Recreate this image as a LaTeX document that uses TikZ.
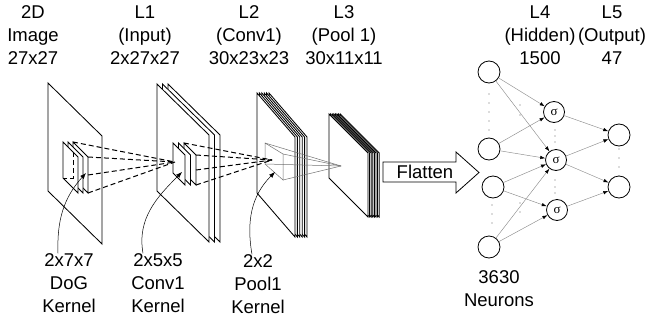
\documentclass[tikz,border=0pt]{standalone}
\usepackage{fontspec}
\setmainfont{Liberation Sans}
\newfontfamily\sigfont{Liberation Serif}
\usetikzlibrary{positioning,arrows.meta,calc}
\tikzset{
  slabline/.style={draw=black,line width=0.85pt,fill=white},
  kray/.style={dash pattern=on 5pt off 3pt,line width=1pt},
  poolline/.style={draw=black!55,line width=0.5pt},
  karr/.style={-{Latex[length=6pt,width=4.5pt]},line width=0.5pt},
  nnarr/.style={-{Latex[length=5pt,width=3.5pt,color=black]},draw=black!45,line width=0.45pt},
  neuron/.style={circle,draw=black,line width=0.8pt,minimum size=22pt,inner sep=0pt},
  sneuron/.style={neuron,minimum size=21pt,font=\sigfont\fontsize{13}{13}\selectfont},
  lbl/.style={align=center,inner sep=0pt,font=\fontsize{18.5}{23}\selectfont},
  nndot/.style={fill=black!60}
}
% x y width slope height backslices offset
\newcommand{\convslab}[7]{%
  \foreach \k in {#6,...,0}
    \filldraw[slabline] ({#1+\k*#7},#2) -- ++(#3,#4) -- ++(0,#5) -- ++(-#3,-#4) -- cycle;
}

\begin{document}
\begin{tikzpicture}[x=1pt,y=-1pt]
\useasboundingbox (0,0) rectangle (647,324);

\node[lbl] (lbl0) at (33,35) {2D\\Image\\27x27};
\node[lbl] (lbl1) at (145,35) {L1\\(Input)\\2x27x27};
\node[lbl] (lbl2) at (249,35) {L2\\(Conv1)\\30x23x23};
\node[lbl] (lbl3) at (344,35) {L3\\(Pool 1)\\30x11x11};
\node[lbl] (lbl4) at (540,35) {L4\\(Hidden)\\1500};
\node[lbl] (lbl5) at (612,35) {L5\\(Output)\\47};

\convslab{48}{83}{54}{53}{108}{0}{0}
\convslab{63}{142}{15}{15}{36}{2}{5}
\draw[kray,line width=0.6pt] (73,152) -- (73,178) -- (63,178);
\convslab{157}{84}{52}{51}{107}{2}{5.5}
\convslab{173}{143}{12}{12}{30}{2}{5.5}
\convslab{257}{93}{38}{44}{100}{5}{2.4}
\convslab{329}{114}{39}{39}{64}{7}{1.6}

\coordinate (a1) at (175,162);
\coordinate (a2) at (272,160);
\coordinate (a3) at (341,166);
\coordinate (p1) at (265,143);
\coordinate (p2) at (283,154);
\coordinate (p3) at (283,180);
\coordinate (p4) at (265,164);
\draw[poolline] (p1) -- (p2) -- (p3) -- (p4) -- cycle;
\foreach \p in {p1,p2,p3,p4}
  \draw[poolline] (\p) -- (a3);
\foreach \s in {(73,142),(88,157),(88,175),(88,193)}
  \draw[kray] \s -- (a1);
\foreach \s in {(184,143),(196,155),(196,170),(196,185)}
  \draw[kray] \s -- (a2);

\node[lbl] (klbl0) at (69,283) {2x7x7\\DoG\\Kernel};
\node[lbl] (klbl1) at (158,283) {2x5x5\\Conv1\\Kernel};
\node[lbl] (klbl2) at (258,284) {2x2\\Pool1\\Kernel};
\coordinate (k0tip) at (86,173);
\coordinate (k1tip) at (182,172);
\coordinate (k2tip) at (275,172);
\draw[karr] ([xshift=-11pt]klbl0.north) to[out=92,in=228] (k0tip);
\draw[karr] ([xshift=-15pt]klbl1.north) to[out=100,in=225] (k1tip);
\draw[karr] ([xshift=-6pt]klbl2.north) to[out=100,in=225] (k2tip);

\draw[line width=0.8pt] (383,162) -- (456,162) -- (456,152) -- (479,172.5)
  -- (456,193) -- (456,182) -- (383,182) -- cycle;
\node[lbl] (flat) at (425,172) {Flatten};

\node[neuron] (n1) at (489,72) {};
\node[neuron] (n2) at (489,149) {};
\node[neuron] (n3) at (493,187) {};
\node[neuron] (n4) at (489,247) {};
\node[sneuron] (h1) at (554,112) {σ};
\node[sneuron] (h2) at (556,160) {σ};
\node[sneuron] (h3) at (557,210) {σ};
\node[neuron] (o1) at (619,135) {};
\node[neuron] (o2) at (619,187) {};
\node[lbl] (nlbl) at (499,289) {3630\\Neurons};

\foreach \a/\b in {n1/h1,n1/h2,n2/h1,n2/h2,n3/h2,n3/h3,n4/h2,n4/h3,h1/o1,h2/o1,h2/o2,h3/o2}
  \draw[nnarr] (\a) -- (\b);

\foreach \y in {94,103,112,121,130}
  \fill[nndot] (489,\y) circle (0.6);
\foreach \y in {205,214,223}
  \fill[nndot] (492,\y) circle (0.6);
\foreach \y in {105,115,203,212}
  \fill[nndot] (520,\y) circle (0.6);
\foreach \y in {130,136,142,180,187,193}
  \fill[nndot] (555,\y) circle (0.6);
\foreach \y in {149,158,167,176}
  \fill[nndot] (619,\y) circle (0.6);
\end{tikzpicture}
\end{document}
